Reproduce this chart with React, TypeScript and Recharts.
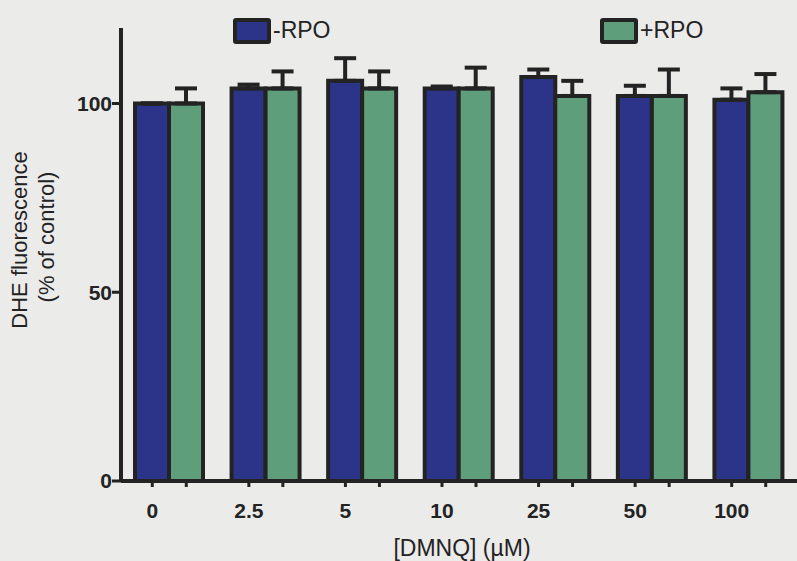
import { BarChart, Bar, XAxis, YAxis, ErrorBar } from "recharts"

const categories = ["0", "2.5", "5", "10", "25", "50", "100"]
const minusRpo = [100, 104, 106, 104, 107, 102, 101]
const minusRpoErr = [0, 1, 6, 0.5, 2, 2.7, 3]
const plusRpo = [100, 104, 104, 104, 102, 102, 103]
const plusRpoErr = [4, 4.5, 4.5, 5.5, 4, 7, 4.8]
const yTicks = [0, 50, 100]

const BLUE = "#2b3488"
const GREEN = "#5e9e7b"
const INK = "#232323"
const FONT = "'Liberation Sans', Arial, sans-serif"

const data = categories.map((c, i) => ({
  dose: c,
  minus: minusRpo[i],
  minusErr: [0, minusRpoErr[i]],
  plus: plusRpo[i],
  plusErr: [0, plusRpoErr[i]],
}))

function DoseTick(props: any) {
  const { x, y, payload } = props
  return (
    <g>
      <line x1={x - 17} x2={x - 17} y1={y} y2={y + 6} stroke={INK} strokeWidth={3} />
      <line x1={x + 17} x2={x + 17} y1={y} y2={y + 6} stroke={INK} strokeWidth={3} />
      <text x={x - 17} y={y + 37} textAnchor="middle" fontFamily={FONT} fontWeight="bold" fontSize={21} fill={INK}>
        {payload.value}
      </text>
    </g>
  )
}

function LegendBox({ left, fill, label }: { left: number; fill: string; label: string }) {
  return (
    <div style={{ position: "absolute", left, top: 17, display: "flex", alignItems: "center" }}>
      <div
        style={{
          width: 30,
          height: 18,
          background: fill,
          border: `4px solid ${INK}`,
          borderRadius: 3,
        }}
      />
      <span style={{ fontFamily: FONT, fontSize: 23, color: INK, marginLeft: 2 }}>{label}</span>
    </div>
  )
}

function YLabel() {
  return (
    <g fontFamily={FONT} fontSize={22} fill={INK}>
      <text x={19} y={240} transform="rotate(-90 19 240)" textAnchor="middle" dominantBaseline="central">
        DHE fluorescence
      </text>
      <text x={46} y={237} transform="rotate(-90 46 237)" textAnchor="middle" dominantBaseline="central">
        (% of control)
      </text>
    </g>
  )
}

export default function App() {
  return (
    <div style={{ position: "absolute", left: 0, top: 0, width: 797, height: 561, background: "#ebebea" }}>
      <BarChart
        width={797}
        height={561}
        data={data}
        margin={{ top: 28, right: 0, left: 0, bottom: 0 }}
        barCategoryGap={14}
        barGap={0}
      >
        <XAxis
          dataKey="dose"
          tick={<DoseTick />}
          tickLine={false}
          tickSize={0}
          tickMargin={0}
          axisLine={{ stroke: INK, strokeWidth: 4 }}
          interval={0}
          height={80}
          label={{
            value: "[DMNQ] (\u00b5M)",
            position: "insideBottom",
            offset: 5,
            dx: 3,
            fill: INK,
            fontSize: 23,
            fontFamily: FONT,
          }}
        />
        <YAxis
          domain={[0, 120]}
          ticks={yTicks}
          width={121}
          tickSize={9}
          tickMargin={0}
          tickLine={{ stroke: INK, strokeWidth: 3 }}
          axisLine={{ stroke: INK, strokeWidth: 4 }}
          tick={{ fill: INK, fontSize: 21, fontWeight: "bold", fontFamily: FONT }}
          label={{ content: () => <YLabel /> }}
        />
        <Bar dataKey="minus" name="-RPO" fill={BLUE} stroke={INK} strokeWidth={4} isAnimationActive={false}>
          <ErrorBar dataKey="minusErr" width={11} stroke={INK} strokeWidth={4} direction="y" />
        </Bar>
        <Bar dataKey="plus" name="+RPO" fill={GREEN} stroke={INK} strokeWidth={4} isAnimationActive={false}>
          <ErrorBar dataKey="plusErr" width={11} stroke={INK} strokeWidth={4} direction="y" />
        </Bar>
      </BarChart>
      <LegendBox left={233} fill={BLUE} label="-RPO" />
      <LegendBox left={600} fill={GREEN} label="+RPO" />
    </div>
  )
}
